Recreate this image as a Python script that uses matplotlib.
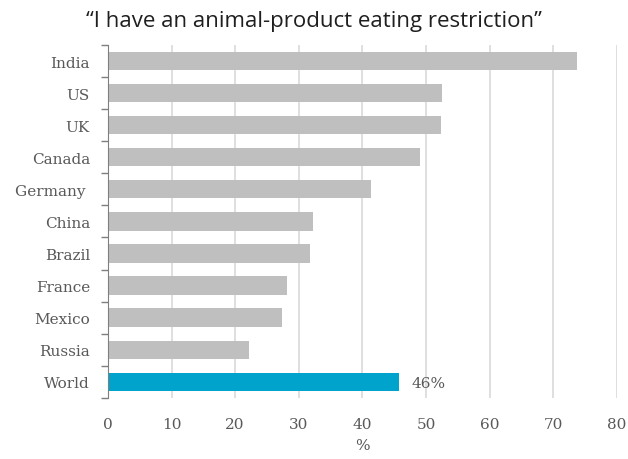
import numpy as np
from matplotlib import pyplot as plt

countries = ["India", "US", "UK", "Canada", "Germany ", "China", "Brazil", "France", "Mexico", "Russia", "World"]
values = [73.8, 52.6, 52.4, 49.1, 41.3, 32.2, 31.8, 28.1, 27.4, 22.2, 45.8]
world_label = "46%"
x_ticks = [0, 10, 20, 30, 40, 50, 60, 70, 80]

grey = "#bfbfbf"
blue = "#00a3cc"
text_col = "#595959"

fig = plt.figure(figsize=(6.28, 4.60), dpi=100)
ax = fig.add_axes([0.172, 0.133, 0.81, 0.767])

y = np.arange(len(countries))
colors = [grey] * (len(countries) - 1) + [blue]
ax.barh(y, values, height=0.57, color=colors, zorder=3)
ax.set_ylim(len(countries) - 0.5, -0.5)
ax.set_xlim(0, 80)

# label on the World bar
ax.text(values[-1] + 2, y[-1] + 0.05, world_label, va="center", ha="left",
        fontsize=11, color=text_col, family="DejaVu Serif")

ax.set_xticks(x_ticks)
ax.set_yticks(y)
ax.set_yticklabels(countries)
ax.set_yticks(np.arange(len(countries) + 1) - 0.5, minor=True)
ax.tick_params(axis="y", which="major", length=0, pad=13, labelsize=11, labelcolor=text_col)
ax.tick_params(axis="y", which="minor", length=5, color="#7f7f7f", width=1)
ax.tick_params(axis="x", length=0, pad=14, labelsize=11, labelcolor=text_col)
for lbl in ax.get_xticklabels() + ax.get_yticklabels():
    lbl.set_family("DejaVu Serif")

ax.grid(axis="x", color="#d9d9d9", linewidth=1.2, zorder=0)
for side in ["top", "right", "bottom"]:
    ax.spines[side].set_visible(False)
ax.spines["left"].set_color("#7f7f7f")
ax.spines["left"].set_zorder(4)

ax.set_xlabel("%", fontsize=11, color=text_col, family="DejaVu Serif", labelpad=5)
fig.text(0.5, 0.953, "\u201cI have an animal-product eating restriction\u201d", ha="center", va="center",
         fontsize=16, color="#1f1f1f", family="Open Sans")

fig.savefig("out.png", dpi=100)
